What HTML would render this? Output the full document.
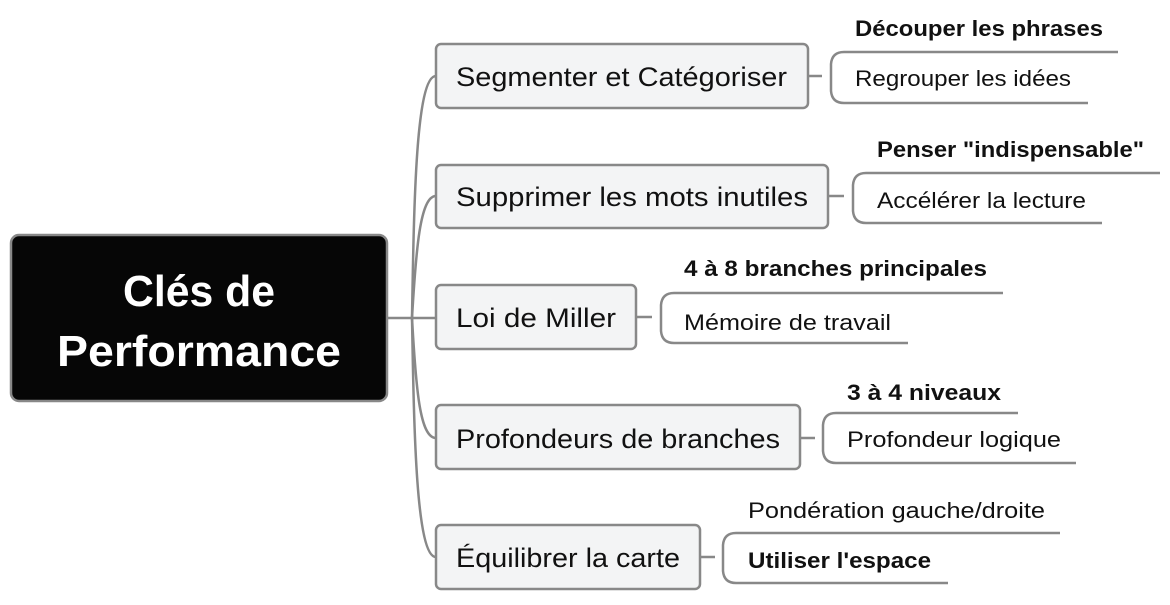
<!DOCTYPE html>
<html><head><meta charset="utf-8"><style>
html,body{margin:0;padding:0;background:#fff;}
svg{display:block;}
text{font-family:"Liberation Sans",sans-serif;fill:#111;}
</style></head><body>
<svg width="1170" height="605" viewBox="0 0 1170 605" xmlns="http://www.w3.org/2000/svg">
<g fill="none" stroke="#888" stroke-width="2.5">
<path d="M387 318 H412"/>
<path d="M412 318 C414 200 416 76 436 76"/>
<path d="M412 318 C416 250 420 196 436 196"/>
<path d="M412 318 H436"/>
<path d="M412 318 C416 390 420 438 436 438"/>
<path d="M412 318 C414 430 416 557 436 557"/>
<path d="M808 76 H822 M1118 52 H844 Q832 52 831 64 V91 Q832 103 844 103 H1088"/>
<path d="M828 196 H844 M1160 173 H866 Q854 173 853 185 V211 Q854 223 866 223 H1102"/>
<path d="M636 317 H652 M1003 293 H674 Q662 293 661 305 V331 Q662 343 674 343 H908"/>
<path d="M800 438 H815 M1018 413 H836 Q824 413 823 425 V451 Q824 463 836 463 H1076"/>
<path d="M700 557 H715 M1060 533 H736 Q724 533 723 545 V571 Q724 583 736 583 H948"/>
</g>
<rect x="11" y="235" width="376" height="166" rx="8" fill="#060606" stroke="#888" stroke-width="2.5"/>
<text x="199" y="306" text-anchor="middle" font-size="44" font-weight="bold" style="fill:#fff" textLength="152" lengthAdjust="spacingAndGlyphs">Clés de</text>
<text x="199" y="366" text-anchor="middle" font-size="44" font-weight="bold" style="fill:#fff" textLength="284" lengthAdjust="spacingAndGlyphs">Performance</text>
<g fill="#f3f4f5" stroke="#888" stroke-width="2.5">
<rect x="436" y="44" width="372" height="64" rx="5"/>
<rect x="436" y="165" width="392" height="63" rx="5"/>
<rect x="436" y="285" width="200" height="64" rx="5"/>
<rect x="436" y="405" width="364" height="64" rx="5"/>
<rect x="436" y="525" width="264" height="64" rx="5"/>
</g>
<g font-size="27">
<text x="456" y="86" textLength="331" lengthAdjust="spacingAndGlyphs">Segmenter et Catégoriser</text>
<text x="456" y="206" textLength="352" lengthAdjust="spacingAndGlyphs">Supprimer les mots inutiles</text>
<text x="456" y="327" textLength="160" lengthAdjust="spacingAndGlyphs">Loi de Miller</text>
<text x="456" y="448" textLength="324" lengthAdjust="spacingAndGlyphs">Profondeurs de branches</text>
<text x="456" y="567" textLength="224" lengthAdjust="spacingAndGlyphs">Équilibrer la carte</text>
</g>
<g font-size="22">
<text x="855" y="36" font-weight="bold" textLength="248" lengthAdjust="spacingAndGlyphs">Découper les phrases</text>
<text x="855" y="86" textLength="216" lengthAdjust="spacingAndGlyphs">Regrouper les idées</text>
<text x="877" y="157" font-weight="bold" textLength="267" lengthAdjust="spacingAndGlyphs">Penser "indispensable"</text>
<text x="877" y="208" textLength="209" lengthAdjust="spacingAndGlyphs">Accélérer la lecture</text>
<text x="684" y="276" font-weight="bold" textLength="303" lengthAdjust="spacingAndGlyphs">4 à 8 branches principales</text>
<text x="684" y="330" textLength="207" lengthAdjust="spacingAndGlyphs">Mémoire de travail</text>
<text x="847" y="400" font-weight="bold" textLength="154" lengthAdjust="spacingAndGlyphs">3 à 4 niveaux</text>
<text x="847" y="447" textLength="214" lengthAdjust="spacingAndGlyphs">Profondeur logique</text>
<text x="748" y="518" textLength="297" lengthAdjust="spacingAndGlyphs">Pondération gauche/droite</text>
<text x="748" y="568" font-weight="bold" textLength="183" lengthAdjust="spacingAndGlyphs">Utiliser l'espace</text>
</g>
</svg>
</body></html>
